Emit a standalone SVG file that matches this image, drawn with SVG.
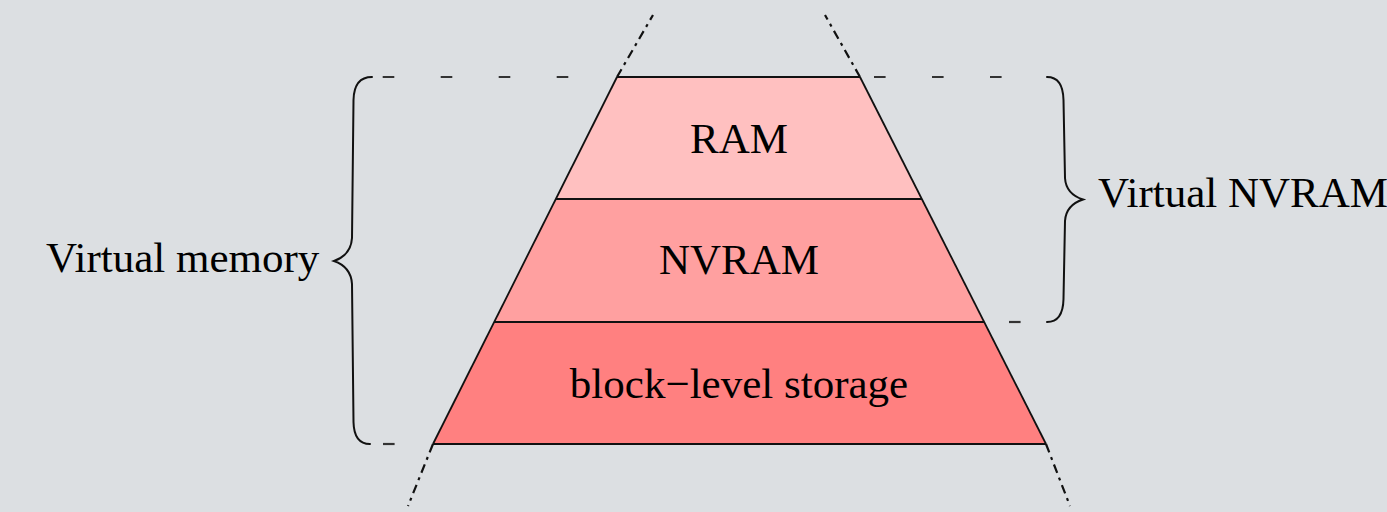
<svg xmlns="http://www.w3.org/2000/svg" width="1387" height="512" viewBox="0 0 1387 512">
  <style>
    .txt { font-family: "Liberation Serif", "Times New Roman", serif; font-size: 43px; fill: #000; }
    .edge { stroke: #111; stroke-width: 1.8; fill: none; }
    .dash { stroke: #333; stroke-width: 2.2; fill: none; stroke-dasharray: 11.6 46.4; }
    .dashdot { stroke: #111; stroke-width: 2.2; fill: none; stroke-dasharray: 9 5 3 5; }
    .brace { stroke: #111; stroke-width: 2; fill: none; stroke-linecap: round; }
  </style>
  <rect width="1387" height="512" fill="#dcdfe2"/>
  <g id="layer-ram">
    <polygon points="617,77 860,77 922,199 556,199" fill="#ffc0c0"/>
    <text class="txt" x="739" y="152.5" text-anchor="middle">RAM</text>
  </g>
  <g id="layer-nvram">
    <polygon points="556,199 922,199 984,322 494,322" fill="#ffa0a0"/>
    <text class="txt" x="739" y="274" text-anchor="middle">NVRAM</text>
  </g>
  <g id="layer-storage">
    <polygon points="494,322 984,322 1046,444 433,444" fill="#ff8080"/>
    <text class="txt" x="739" y="397.5" text-anchor="middle">block−level storage</text>
  </g>
  <g id="connectors">
    <line class="edge" x1="617" y1="77" x2="860" y2="77" stroke="#333" stroke-width="2.2"/>
    <line class="edge" x1="556" y1="199" x2="922" y2="199"/>
    <line class="edge" x1="494" y1="322" x2="984" y2="322"/>
    <line class="edge" x1="433" y1="444" x2="1046" y2="444" stroke="#333" stroke-width="2.2"/>
    <line class="edge" x1="617" y1="77" x2="433" y2="444"/>
    <line class="edge" x1="860" y1="77" x2="1046" y2="444"/>
    <line class="dashdot" x1="617" y1="77" x2="653" y2="15"/>
    <line class="dashdot" x1="860" y1="77" x2="825" y2="15"/>
    <line class="dashdot" x1="433" y1="444" x2="408" y2="506"/>
    <line class="dashdot" x1="1046" y1="444" x2="1070" y2="506"/>
    <line class="dash" x1="382.7" y1="77" x2="568.5" y2="77"/>
    <line class="dash" x1="874" y1="77" x2="1001.6" y2="77"/>
    <line class="dash" x1="1009" y1="322" x2="1020.6" y2="322"/>
    <line class="dash" x1="383" y1="444" x2="394.6" y2="444"/>
  </g>
  <g id="brace-virtual-memory">
    <path class="brace" d="M372,77 Q354,77 353.5,100 L352,238 Q351,255 334,261 Q351,267 352,284 L353.5,422 Q354,444 370,444"/>
    <text class="txt" x="46" y="272">Virtual memory</text>
  </g>
  <g id="brace-virtual-nvram">
    <path class="brace" d="M1047,77 Q1063,77 1063.5,100 L1065,178 Q1066,194 1083,199.5 Q1066,205 1065,221 L1063.5,299 Q1063,322 1047,322"/>
    <text class="txt" x="1098" y="207">Virtual NVRAM</text>
  </g>
</svg>
